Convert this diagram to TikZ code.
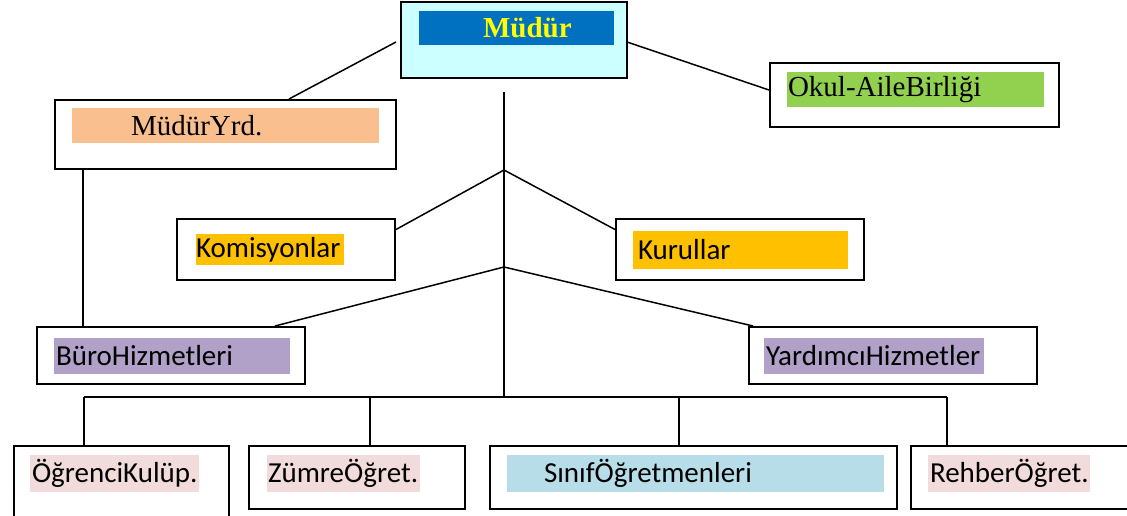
\documentclass[tikz,border=0pt]{standalone}
\usepackage{fontspec}
\newfontfamily\tnrfont{Liberation Serif}
\newfontfamily\calfont{Carlito}
\definecolor{cyanfill}{HTML}{CCFFFF}
\definecolor{bluebar}{HTML}{0070C0}
\definecolor{yellowtxt}{HTML}{FFFF00}
\definecolor{orangebar}{HTML}{F9BF8F}
\definecolor{greenbar}{HTML}{92D050}
\definecolor{goldbar}{HTML}{FFC000}
\definecolor{purplebar}{HTML}{B1A0C7}
\definecolor{pinkbar}{HTML}{F2DCDB}
\definecolor{lbluebar}{HTML}{B7DEE8}
\tikzset{
  box/.style={draw=black, line width=2pt, fill=white, inner sep=0pt},
  bar/.style={inner sep=0pt, minimum height=#1},
  conn/.style={line width=1.5pt, black},
  serif/.style={font=\tnrfont\fontsize{29}{34}\selectfont},
  sans/.style={font=\calfont\fontsize{29}{34}\selectfont},
}
\newcommand{\lbl}[3]{\makebox[#1pt][l]{\hspace*{#2pt}#3}}
\begin{document}
\begin{tikzpicture}[x=1pt,y=-1pt]
\clip (0,0) rectangle (1127,516);
\fill[white] (0,0) rectangle (1127,516);
% boxes
\node[box, fill=cyanfill, minimum width=226, minimum height=76] (mudur) at (514,40) {};
\node[bar=34, fill=bluebar, text=yellowtxt, serif, font=\tnrfont\bfseries\fontsize{29}{34}\selectfont] (mudurbar) at (516.5,28) {\lbl{195}{64}{Müdür}};
\node[box, minimum width=341, minimum height=69] (mudyrd) at (225.5,134.5) {};
\node[bar=35, fill=orangebar, serif] (mudyrdbar) at (225.5,125.5) {\lbl{307}{59}{MüdürYrd.}};
\node[box, minimum width=289, minimum height=64] (okul) at (914.5,95) {};
\node[bar=35, fill=greenbar, serif] (okulbar) at (915.5,89.5) {\lbl{257}{1}{Okul-AileBirliği}};
\node[box, minimum width=218, minimum height=61] (komis) at (286,249.5) {};
\node[bar=31, fill=goldbar, sans] (komisbar) at (270,249.5) {\lbl{148}{0}{Komisyonlar}};
\node[box, minimum width=248, minimum height=61] (kurul) at (740,249.5) {};
\node[bar=38, fill=goldbar, sans] (kurulbar) at (740.5,250) {\lbl{215}{5}{Kurullar}};
\node[box, minimum width=268, minimum height=57] (buro) at (171,355.5) {};
\node[bar=36, fill=purplebar, sans] (burobar) at (172,356) {\lbl{236}{2}{BüroHizmetleri}};
\node[box, minimum width=288, minimum height=57] (yard) at (893,355.5) {};
\node[bar=36, fill=purplebar, sans] (yardbar) at (874,356) {\lbl{220}{2}{YardımcıHizmetler}};
\node[box, minimum width=215, minimum height=79] (ogr) at (121.5,485.5) {};
\node[bar=37, fill=pinkbar, sans] (ogrbar) at (114.5,473.5) {\lbl{169}{2}{ÖğrenciKulüp.}};
\node[box, minimum width=216, minimum height=63] (zum) at (357,477.5) {};
\node[bar=37, fill=pinkbar, sans] (zumbar) at (343.5,473.5) {\lbl{153}{1}{ZümreÖğret.}};
\node[box, minimum width=407, minimum height=63] (sinif) at (693.5,477.5) {};
\node[bar=37, fill=lbluebar, sans] (sinifbar) at (695.5,473.5) {\lbl{377}{37}{SınıfÖğretmenleri}};
\node[box, minimum width=229, minimum height=63] (rehber) at (1025.5,477.5) {};
\node[bar=37, fill=pinkbar, sans] (rehberbar) at (1009,473.5) {\lbl{162}{2}{RehberÖğret.}};
% coordinates
\coordinate (t0) at (504,92);
\coordinate (j1) at (504,170);
\coordinate (j2) at (504,267);
\coordinate (j3) at (504,397);
\coordinate (ml) at (396,42);
\coordinate (mr) at (627,42);
\coordinate (v) at (83,0);
\coordinate (d1) at (84,0);
\coordinate (d2) at (370,0);
\coordinate (d3) at (679,0);
\coordinate (d4) at (947,0);
% connectors
\draw[conn] (ml) -- ([xshift=63.5pt]mudyrd.north);
\draw[conn] (mr) -- ([yshift=5pt]okul.west);
\draw[conn] (t0) -- (j3);
\draw[conn] (j1) -- ([yshift=20pt]komis.east);
\draw[conn] (j1) -- ([yshift=20pt]kurul.west);
\draw[conn] (j2) -- ([xshift=104pt]buro.north);
\draw[conn] (j2) -- ([xshift=-140pt]yard.north);
\draw[conn] (mudyrd.south -| v) -- (buro.north -| v);
\draw[conn] (j3 -| d1) -- (j3 -| d4);
\draw[conn] (j3 -| d1) -- (ogr.north -| d1);
\draw[conn] (j3 -| d2) -- (zum.north -| d2);
\draw[conn] (j3 -| d3) -- (sinif.north -| d3);
\draw[conn] (j3 -| d4) -- (rehber.north -| d4);
\end{tikzpicture}
\end{document}
